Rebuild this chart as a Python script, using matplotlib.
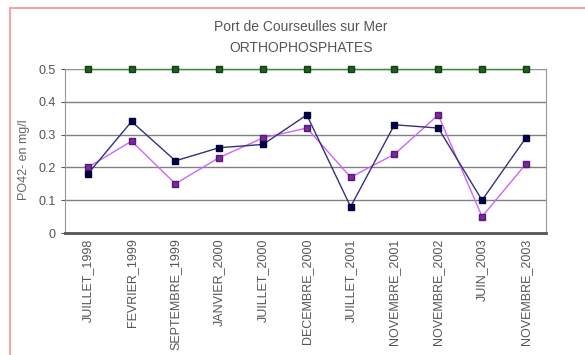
import matplotlib.pyplot as plt
from matplotlib.patches import Rectangle
import numpy as np

plt.rcParams['font.family'] = ['Liberation Sans', 'DejaVu Sans']

dates = ["JUILLET_1998", "FEVRIER_1999", "SEPTEMBRE_1999", "JANVIER_2000", "JUILLET_2000",
         "DECEMBRE_2000", "JUILLET_2001", "NOVEMBRE_2001", "NOVEMBRE_2002", "JUIN_2003",
         "NOVEMBRE_2003"]
serie_navy = [0.18, 0.34, 0.22, 0.26, 0.27, 0.36, 0.08, 0.33, 0.32, 0.10, 0.29]
serie_purple = [0.20, 0.28, 0.15, 0.23, 0.29, 0.32, 0.17, 0.24, 0.36, 0.05, 0.21]
seuil = [0.5] * len(dates)

fig = plt.figure(figsize=(5.85, 3.55), dpi=100)
fig.patch.set_facecolor('white')
# pink frame, its right and bottom sides fall outside the picture
fig.patches.append(Rectangle((10/585, -0.05), 1.0, 1 - 8/355 + 0.05, transform=fig.transFigure,
                             fill=False, edgecolor='#f4a6a6', linewidth=1.5))

ax = fig.add_axes([65/585, 1 - 233/355, (546-65)/585, (233-69)/355])
x = np.arange(len(dates))
ax.plot(x, serie_purple, color='#cc66ff', marker='s', markersize=5, lw=1,
        markerfacecolor='#7a2a9a', markeredgecolor='#5a1a7a')
ax.plot(x, serie_navy, color='#33337a', marker='s', markersize=5, lw=1,
        markerfacecolor='#000050', markeredgecolor='#000030')
ax.plot(x, seuil, color='#3a8a3a', marker='s', markersize=5, lw=1,
        markerfacecolor='#1f5f1f', markeredgecolor='#104010', clip_on=False, zorder=5)

ax.set_xlim(-0.52, len(dates) - 0.54)
ax.set_ylim(0, 0.5)
ax.set_yticks([0, 0.1, 0.2, 0.3, 0.4, 0.5])
ax.set_yticklabels(["0", "0.1", "0.2", "0.3", "0.4", "0.5"])
ax.yaxis.grid(True, color='#808080', lw=1)
ax.set_axisbelow(True)
ax.set_xticks(x)
ax.set_xticklabels(dates, rotation=90, fontsize=9, color='#555555')
ax.tick_params(axis='y', labelsize=9, colors='#555555', length=3)
ax.tick_params(axis='x', length=0, pad=4)
for s in ax.spines.values():
    s.set_color('#999999')
ax.spines['bottom'].set_color('#555555')
ax.spines['bottom'].set_linewidth(2)

ax.set_ylabel("PO42- en mg/l", fontsize=9, color='#666666')
ax.yaxis.set_label_coords(-0.072, 0.445)
fig.text(301/585, 1 - 27/355, "Port de Courseulles sur Mer", ha='center', va='center',
         fontsize=10, color='#555555')
fig.text(301/585, 1 - 48/355, "ORTHOPHOSPHATES", ha='center', va='center',
         fontsize=10, color='#555555')

fig.savefig("out.png", dpi=100)
